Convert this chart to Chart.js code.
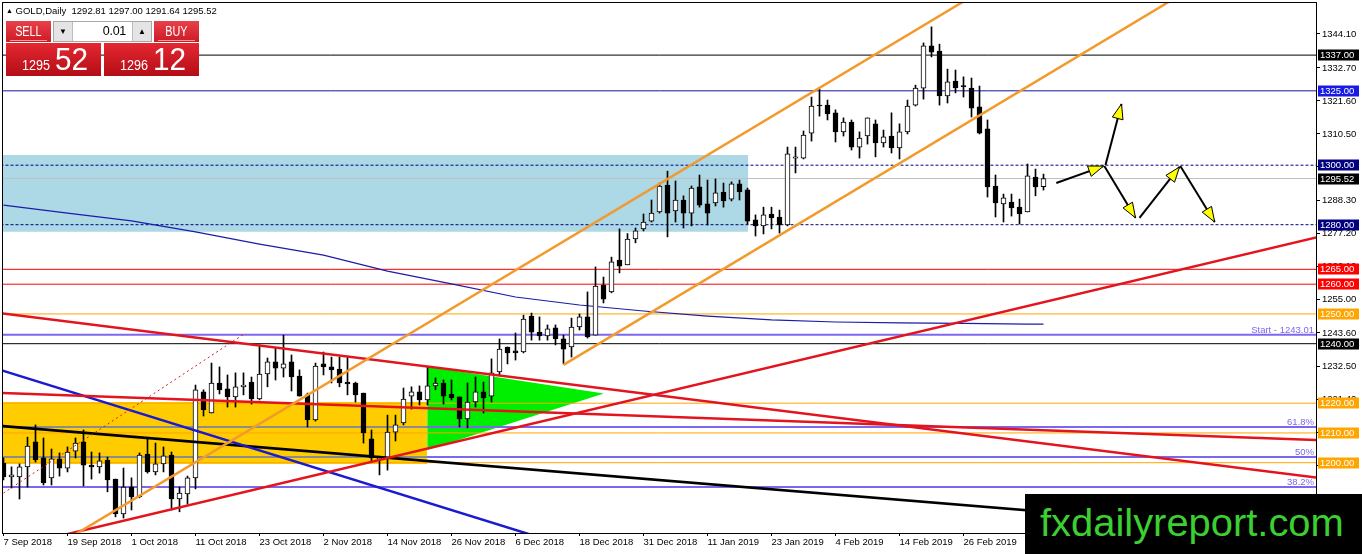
<!DOCTYPE html>
<html>
<head>
<meta charset="utf-8">
<title>GOLD Daily</title>
<script src="https://cdn.jsdelivr.net/npm/chart.js@4.4.0/dist/chart.umd.min.js"></script>
<style>
  html, body { margin: 0; padding: 0; background: #fff; }
  #wrap { position: relative; width: 1362px; height: 554px; overflow: hidden; font-family: "Liberation Sans", Arial, sans-serif; }
  #chart { position: absolute; left: 0; top: 0; }
  #title { position: absolute; left: 6px; top: 5px; font-size: 9.5px; color: #000; white-space: pre; line-height: 12px; }
  #title .tri { font-size: 7px; vertical-align: 1px; }
  .btn { position: absolute; top: 21px; width: 45px; height: 21px; background: linear-gradient(#e8404a, #cc1b25); color: #fff; text-align: center; overflow: hidden; }
  .btn span { display: inline-block; font-size: 15px; line-height: 20px; transform: scaleX(0.72); }
  .btn::after { content: ''; position: absolute; left: 4px; right: 4px; bottom: 1px; height: 1px; background: #f3a0a4; }
  #sell { left: 6px; }
  #buy { left: 154px; }
  #spin { position: absolute; left: 53px; top: 21px; width: 97px; height: 19px; border: 1px solid #a8a8a8; background: #fff; }
  #spin .arr { position: absolute; top: 0; width: 18px; height: 19px; background: #e4e4e4; font-size: 8px; line-height: 19px; text-align: center; color: #000; }
  #dn { left: 0; border-right: 1px solid #bdbdbd; }
  #up { right: 0; border-left: 1px solid #bdbdbd; }
  #lot { position: absolute; left: 20px; width: 52px; top: 0; text-align: right; font-size: 12.5px; line-height: 19px; color: #000; letter-spacing: -0.3px; }
  .pbox { position: absolute; top: 43px; width: 95px; height: 33px; background: linear-gradient(#e42832, #b40d16); color: #fff; overflow: hidden; }
  #pSell { left: 6px; }
  #pBuy { left: 104px; }
  .pbox .sm { position: absolute; left: 16px; top: 14px; font-size: 15px; line-height: 15px; transform: scaleX(0.84); transform-origin: left; }
  .pbox .big { position: absolute; left: 49px; top: 0; font-size: 32px; line-height: 32px; transform: scaleX(0.93); transform-origin: left; }
  #wm { position: absolute; left: 1025px; top: 494px; width: 337px; height: 60px; background: #000; overflow: hidden; }
  #wm span { position: absolute; left: 15px; top: 10px; font-size: 38px; line-height: 38px; color: #3ccf32; transform: scaleX(1.05); transform-origin: left; white-space: nowrap; }
</style>
</head>
<body>
<div id="wrap">
  <canvas id="chart" width="1362" height="554"></canvas>
  <div id="title"><span class="tri">▲</span> GOLD,Daily  1292.81 1297.00 1291.64 1295.52</div>
  <div class="btn" id="sell"><span>SELL</span></div>
  <div id="spin"><div class="arr" id="dn">▼</div><div id="lot">0.01</div><div class="arr" id="up">▲</div></div>
  <div class="btn" id="buy"><span>BUY</span></div>
  <div class="pbox" id="pSell"><span class="sm">1295</span><span class="big">52</span></div>
  <div class="pbox" id="pBuy"><span class="sm">1296</span><span class="big">12</span></div>
  <div id="wm"><span>fxdailyreport.com</span></div>
</div>
<script>
(function () {
  'use strict';

  // daily bars, 7 Sep 2018 .. 12 Mar 2019 (index = bar number)
  const candleOpen = [
    1199.9, 1195.2, 1195.2, 1198.6, 1207.0, 1201.6, 1194.9, 1201.3, 1198.2, 1203.9,
    1207.0, 1199.2, 1198.6, 1200.9, 1194.5, 1182.8, 1191.8, 1188.5, 1202.9, 1196.9,
    1199.6, 1202.6, 1187.8, 1189.5, 1194.9, 1223.8, 1216.7, 1226.8, 1224.8, 1222.1,
    1225.5, 1227.1, 1221.4, 1229.8, 1233.9, 1231.8, 1233.9, 1229.1, 1222.8, 1214.4,
    1233.2, 1232.2, 1231.5, 1227.1, 1226.8, 1223.4, 1208.0, 1201.3, 1201.6, 1210.3,
    1213.4, 1222.4, 1223.8, 1221.1, 1225.8, 1226.8, 1223.1, 1222.1, 1214.7, 1220.4,
    1223.8, 1222.4, 1230.5, 1238.9, 1237.6, 1237.2, 1249.3, 1243.9, 1242.6, 1245.3,
    1241.6, 1238.9, 1245.6, 1249.0, 1242.9, 1259.7, 1257.4, 1268.1, 1266.5, 1275.2,
    1278.6, 1281.2, 1284.3, 1293.3, 1284.6, 1288.3, 1283.9, 1292.7, 1287.0, 1287.3,
    1291.0, 1288.6, 1293.7, 1291.7, 1281.6, 1279.6, 1283.6, 1282.6, 1279.9, 1302.4,
    1302.4, 1310.8, 1320.2, 1320.2, 1317.6, 1311.2, 1314.5, 1306.1, 1309.8, 1313.9,
    1307.5, 1309.8, 1305.8, 1311.2, 1320.2, 1325.9, 1340.1, 1338.4, 1323.3, 1328.3,
    1326.7, 1325.9, 1319.6, 1312.2, 1293.0, 1287.0, 1287.6, 1285.9, 1284.3, 1296.0,
    1292.81
  ];
  const candleHigh = [
    1201.6, 1198.6, 1199.6, 1208.6, 1212.7, 1208.3, 1204.6, 1203.3, 1205.3, 1208.3,
    1211.0, 1203.6, 1203.3, 1201.9, 1194.5, 1198.2, 1194.9, 1203.3, 1208.3, 1206.6,
    1205.3, 1203.6, 1191.8, 1195.5, 1226.1, 1224.5, 1233.5, 1232.2, 1229.5, 1230.2,
    1230.2, 1228.8, 1239.6, 1235.2, 1238.6, 1242.9, 1236.2, 1231.2, 1223.4, 1233.5,
    1237.2, 1235.5, 1235.5, 1235.5, 1227.1, 1223.4, 1211.0, 1201.9, 1216.0, 1216.0,
    1225.1, 1225.5, 1225.8, 1232.2, 1228.5, 1227.8, 1227.8, 1222.1, 1226.8, 1228.8,
    1227.1, 1234.9, 1241.6, 1238.9, 1243.6, 1249.6, 1250.3, 1249.0, 1246.3, 1246.3,
    1242.9, 1248.6, 1250.0, 1257.4, 1265.8, 1262.4, 1269.1, 1278.6, 1277.0, 1278.9,
    1283.6, 1288.3, 1294.0, 1298.0, 1294.7, 1289.7, 1293.0, 1296.7, 1295.0, 1295.4,
    1294.0, 1294.4, 1295.0, 1292.3, 1283.3, 1285.9, 1285.9, 1284.9, 1306.1, 1306.1,
    1311.5, 1322.9, 1325.6, 1321.9, 1318.6, 1315.9, 1315.2, 1311.2, 1315.9, 1315.2,
    1311.8, 1317.6, 1313.9, 1321.9, 1326.9, 1341.1, 1346.5, 1340.7, 1332.3, 1332.0,
    1329.7, 1329.3, 1326.6, 1315.2, 1296.7, 1290.3, 1290.3, 1288.6, 1300.4, 1298.7,
    1297.00
  ];
  const candleLow = [
    1194.2, 1191.5, 1187.8, 1191.8, 1200.2, 1192.5, 1192.5, 1195.5, 1196.9, 1201.6,
    1192.2, 1194.5, 1196.5, 1190.2, 1181.8, 1181.4, 1184.1, 1188.2, 1196.5, 1195.9,
    1196.9, 1184.1, 1183.5, 1186.1, 1191.2, 1215.7, 1216.7, 1223.1, 1218.7, 1218.7,
    1222.8, 1219.7, 1221.1, 1225.5, 1227.8, 1228.8, 1224.1, 1222.4, 1212.0, 1214.0,
    1229.5, 1226.8, 1225.5, 1222.8, 1220.4, 1206.6, 1200.2, 1195.9, 1197.5, 1207.3,
    1212.7, 1218.0, 1219.4, 1219.4, 1224.5, 1219.7, 1221.1, 1212.0, 1211.7, 1218.7,
    1216.7, 1220.4, 1229.5, 1233.2, 1234.5, 1236.9, 1241.2, 1241.2, 1241.2, 1239.6,
    1233.2, 1235.5, 1244.6, 1241.9, 1242.9, 1253.7, 1257.1, 1263.8, 1266.5, 1273.9,
    1277.9, 1280.9, 1283.9, 1275.9, 1280.9, 1278.9, 1279.6, 1285.9, 1279.9, 1286.3,
    1285.9, 1288.0, 1288.3, 1280.2, 1276.2, 1276.9, 1278.6, 1277.2, 1279.6, 1297.4,
    1302.1, 1308.1, 1316.5, 1315.2, 1307.8, 1309.8, 1305.1, 1302.4, 1307.1, 1302.8,
    1306.1, 1304.1, 1302.1, 1310.5, 1319.9, 1322.2, 1336.4, 1320.2, 1320.9, 1324.3,
    1322.9, 1316.2, 1310.5, 1289.3, 1282.6, 1280.9, 1282.9, 1280.2, 1284.3, 1289.7,
    1291.64
  ];
  const candleClose = [
    1195.2, 1195.9, 1198.6, 1205.6, 1200.9, 1193.2, 1201.3, 1198.2, 1203.6, 1206.6,
    1199.2, 1198.6, 1200.6, 1194.2, 1182.8, 1191.8, 1188.5, 1202.6, 1196.9, 1199.6,
    1202.3, 1187.8, 1189.8, 1194.9, 1224.5, 1217.7, 1226.8, 1224.5, 1222.1, 1225.5,
    1226.1, 1221.4, 1229.8, 1233.9, 1231.8, 1233.2, 1228.8, 1222.4, 1214.4, 1232.5,
    1232.2, 1231.2, 1226.8, 1226.5, 1222.8, 1210.0, 1201.6, 1201.6, 1210.3, 1212.7,
    1221.4, 1223.8, 1221.1, 1225.8, 1226.8, 1222.4, 1221.8, 1214.7, 1220.4, 1223.8,
    1221.8, 1230.2, 1238.2, 1236.9, 1236.9, 1248.3, 1243.9, 1242.6, 1245.0, 1241.6,
    1238.2, 1245.6, 1249.0, 1242.3, 1259.4, 1255.0, 1267.5, 1266.1, 1275.2, 1277.9,
    1280.9, 1283.9, 1293.0, 1283.9, 1288.3, 1283.9, 1292.3, 1286.6, 1283.9, 1290.7,
    1288.0, 1293.7, 1291.0, 1281.2, 1279.6, 1283.3, 1282.3, 1279.9, 1303.8, 1302.8,
    1310.1, 1319.9, 1319.9, 1317.2, 1311.2, 1314.5, 1306.1, 1309.1, 1315.9, 1307.5,
    1309.5, 1305.8, 1311.2, 1319.9, 1325.9, 1340.1, 1338.0, 1323.3, 1328.0, 1326.0,
    1326.4, 1319.2, 1310.8, 1292.7, 1287.3, 1289.0, 1285.6, 1283.6, 1296.4, 1292.7,
    1295.52
  ];

  const dateTickIdx = [0, 8, 16, 24, 32, 40, 48, 56, 64, 72, 80, 88, 96, 104, 112, 120];
  const dateTickLabels = [
    '7 Sep 2018', '19 Sep 2018', '1 Oct 2018', '11 Oct 2018', '23 Oct 2018', '2 Nov 2018',
    '14 Nov 2018', '26 Nov 2018', '6 Dec 2018', '18 Dec 2018', '31 Dec 2018', '11 Jan 2019',
    '23 Jan 2019', '4 Feb 2019', '14 Feb 2019', '26 Feb 2019'
  ];
  const priceTicks = [1344.10, 1332.70, 1321.60, 1310.50, 1299.40, 1288.30, 1277.20, 1266.10,
    1255.00, 1243.60, 1232.50, 1221.40, 1210.30, 1199.20, 1188.10];

  // moving average (navy curve)
  const maIdx = [0, 8, 16, 24, 32, 40, 48, 56, 64, 72, 80, 88, 96, 104, 112, 120, 128, 130];
  const maValues = [1286.6, 1283.9, 1281.3, 1277.6, 1273.5, 1269.8, 1264.4, 1260.1, 1255.7,
    1253.0, 1251.0, 1249.3, 1248.0, 1247.3, 1247.0, 1246.8, 1246.6, 1246.6];

  // horizontal levels
  const levelPrices = [1337, 1325, 1300, 1280, 1265, 1260, 1250, 1240, 1220, 1210, 1200];
  const startPrice = 1243.01;
  const fibPrices = [1212.0, 1201.9, 1191.8];
  const fibLabels = ['61.8%', '50%', '38.2%'];

  // trend lines: [barFrom, priceFrom, barTo, priceTo]
  const channelUpper = [5, 1169.5, 125, 1363.1];
  const channelLower = [70, 1232.9, 150, 1361.9];
  const redRising = [5, 1174.1, 170, 1279.5];
  const redFalling = [-1, 1250.5, 170, 1193.0];
  const redFlat = [-1, 1223.5, 170, 1207.1];
  const redDotted = [0, 1189.8, 30.25, 1243.6];
  const blueFalling = [-1, 1231.7, 67, 1174.9];
  const blackFalling = [-1, 1212.5, 170, 1174.7];

  // zones: [barFrom, barTo, priceTop, priceBottom]
  const blueZone = [-1, 93.1, 1303.4, 1277.6];
  const goldZone = [-1, 52.96, 1220.4, 1199.6];
  const greenTriangle = [[52.96, 1232.3], [75.04, 1223.3], [52.96, 1204.3]];

  // projected path arrows: [barFrom, priceFrom, barTo, priceTo]
  const arrowPaths = [
    [131.6, 1294.0, 137.5, 1299.7],
    [137.75, 1300.1, 139.75, 1320.6],
    [137.6, 1299.7, 141.5, 1282.3],
    [142.0, 1282.3, 147.0, 1299.4],
    [147.1, 1299.7, 151.4, 1280.9]
  ];

  // styles
  const levelLineColor = ['#000000', '#1414a0', '#000080', '#000080', '#ff0000', '#ff0000',
    '#ffa500', '#000000', '#ffa500', '#ffa500', '#ffa500'];
  const levelBoxColor = ['#000000', '#1a1ae6', '#000080', '#000080', '#ff0000', '#ff0000',
    '#ffa500', '#000000', '#ffa500', '#ffa500', '#ffa500'];
  const levelDash = [[], [], [3, 2], [3, 2], [], [], [], [], [], [], []];
  const slate = '#7b68ee';
  const orange = '#f39a2e';
  const red = '#e3141e';
  const FONT = '"Liberation Sans", Arial, sans-serif';

  const seg = (l) => [{ x: l[0], y: l[1] }, { x: l[2], y: l[3] }];
  const hline = (p) => [{ x: -1, y: p }, { x: 170, y: p }];

  function lineDs(data, color, width, order, extra) {
    return Object.assign({
      type: 'line',
      data: data,
      borderColor: color,
      borderWidth: width,
      pointRadius: 0,
      pointHoverRadius: 0,
      tension: 0,
      fill: false,
      order: order,
    }, extra || {});
  }

  // axes keep the plot area fixed: no automatic room for the edge labels
  function noPadding(s) {
    s.paddingTop = 0;
    s.paddingBottom = 0;
    s.paddingLeft = 0;
    s.paddingRight = 0;
  }

  const datasets = [];

  // zones (background)
  datasets.push(lineDs(
    [{ x: blueZone[0], y: blueZone[2] }, { x: blueZone[1], y: blueZone[2] }],
    'transparent', 0, 100, { fill: { value: blueZone[3] }, backgroundColor: '#add8e6' }));
  datasets.push(lineDs(
    [{ x: goldZone[0], y: goldZone[2] }, { x: goldZone[1], y: goldZone[2] }],
    'transparent', 0, 100, { fill: { value: goldZone[3] }, backgroundColor: '#ffcc00' }));
  datasets.push(lineDs(
    [{ x: greenTriangle[0][0], y: greenTriangle[0][1] }, { x: greenTriangle[1][0], y: greenTriangle[1][1] }],
    'transparent', 0, 99, { fill: '+1', backgroundColor: '#00ee00' }));
  datasets.push(lineDs(
    [{ x: greenTriangle[2][0], y: greenTriangle[2][1] }, { x: greenTriangle[1][0], y: greenTriangle[1][1] }],
    'transparent', 0, 99));

  // horizontal levels
  levelPrices.forEach((p, k) => {
    datasets.push(lineDs(hline(p), levelLineColor[k], 1, 60, { borderDash: levelDash[k] }));
  });
  datasets.push(lineDs(hline(candleClose[candleClose.length - 1]), '#c0c0c0', 1, 61));
  datasets.push(lineDs(hline(startPrice), slate, 2, 60));
  fibPrices.forEach((p) => datasets.push(lineDs(hline(p), slate, 2, 60)));
  fibPrices.slice(0, 2).forEach((p) => datasets.push(lineDs(
    [{ x: -1, y: p }, { x: goldZone[1], y: p }], '#8c8c8c', 2, 59)));

  // moving average
  datasets.push(lineDs(maIdx.map((i, k) => ({ x: i, y: maValues[k] })), '#1c1ca8', 1.2, 55));

  // candles
  const bars = candleOpen.map((o, i) => i);
  datasets.push({
    type: 'bar',
    data: bars.map((i) => ({ x: i, y: [candleLow[i], candleHigh[i]] })),
    backgroundColor: '#000',
    borderWidth: 0,
    barThickness: 1,
    maxBarThickness: 1,
    grouped: false,
    order: 40,
  });
  datasets.push({
    type: 'bar',
    data: bars.map((i) => ({ x: i, y: [candleOpen[i], candleClose[i]] })),
    backgroundColor: bars.map((i) => (candleClose[i] >= candleOpen[i] ? '#ffffff' : '#000000')),
    borderColor: '#000',
    borderWidth: 1,
    borderSkipped: false,
    barThickness: 5,
    maxBarThickness: 5,
    minBarLength: 1,
    grouped: false,
    order: 39,
  });

  // trend lines
  datasets.push(lineDs(seg(channelUpper), orange, 2.5, 20));
  datasets.push(lineDs(seg(channelLower), orange, 2.5, 20));
  datasets.push(lineDs(seg(redRising), red, 2.5, 21));
  datasets.push(lineDs(seg(redFalling), red, 2.5, 21));
  datasets.push(lineDs(seg(redFlat), red, 2.5, 21));
  datasets.push(lineDs(seg(redDotted), red, 1, 21, { borderDash: [2, 3] }));
  datasets.push(lineDs(seg(blueFalling), '#1a1ad0', 2.5, 22));
  datasets.push(lineDs(seg(blackFalling), '#000000', 2.5, 22));

  // projection arrows
  arrowPaths.forEach((a) => datasets.push(lineDs(seg(a), '#000000', 2, 10)));

  const arrowHeads = {
    id: 'arrowHeads',
    afterDatasetsDraw(chart) {
      const { ctx, scales: { x, y } } = chart;
      ctx.save();
      arrowPaths.forEach((a) => {
        const x1 = x.getPixelForValue(a[0]), y1 = y.getPixelForValue(a[1]);
        const x2 = x.getPixelForValue(a[2]), y2 = y.getPixelForValue(a[3]);
        const ang = Math.atan2(y2 - y1, x2 - x1);
        const len = 15, half = 5.5;
        const bx = x2 - Math.cos(ang) * len, by = y2 - Math.sin(ang) * len;
        ctx.beginPath();
        ctx.moveTo(x2, y2);
        ctx.lineTo(bx + Math.sin(ang) * half, by - Math.cos(ang) * half);
        ctx.lineTo(bx - Math.sin(ang) * half, by + Math.cos(ang) * half);
        ctx.closePath();
        ctx.fillStyle = '#ffff00';
        ctx.fill();
        ctx.lineWidth = 1;
        ctx.strokeStyle = '#000';
        ctx.stroke();
      });
      ctx.restore();
    },
  };

  const levelLabels = {
    id: 'levelLabels',
    afterDraw(chart) {
      const { ctx, chartArea, scales: { y } } = chart;
      ctx.save();
      // chart frame
      ctx.strokeStyle = '#000';
      ctx.lineWidth = 1;
      ctx.strokeRect(chartArea.left - 0.5, chartArea.top - 0.5, chartArea.width + 1, chartArea.height + 1);

      // fibo / start texts
      ctx.font = '9.5px ' + FONT;
      ctx.fillStyle = slate;
      ctx.textAlign = 'right';
      ctx.textBaseline = 'alphabetic';
      ctx.fillText('Start - ' + startPrice.toFixed(2), chartArea.right - 2, y.getPixelForValue(startPrice) - 2);
      fibPrices.forEach((p, k) => {
        ctx.fillText(fibLabels[k], chartArea.right - 2, y.getPixelForValue(p) - 2);
      });

      // price boxes on the axis
      const boxes = levelPrices.map((p, k) => [p, levelBoxColor[k]]);
      boxes.push([candleClose[candleClose.length - 1], '#000000']);
      ctx.textAlign = 'left';
      ctx.textBaseline = 'middle';
      boxes.forEach(([p, c]) => {
        const py = Math.round(y.getPixelForValue(p));
        ctx.fillStyle = c;
        ctx.fillRect(chartArea.right + 2, py - 5.5, 41, 11);
        ctx.fillStyle = '#fff';
        ctx.fillText(p.toFixed(2), chartArea.right + 4, py + 0.5);
      });
      ctx.restore();
    },
  };

  const ctx = document.getElementById('chart').getContext('2d');
  new Chart(ctx, {
    type: 'bar',
    data: { datasets: datasets },
    options: {
      responsive: false,
      devicePixelRatio: 1,
      animation: false,
      layout: { autoPadding: false, padding: { left: 3, top: 3, right: 0, bottom: 0 } },
      plugins: {
        legend: { display: false },
        tooltip: { enabled: false },
      },
      scales: {
        x: {
          type: 'linear',
          position: 'bottom',
          min: -0.0625,
          max: 164.0625,
          offset: false,
          afterBuildTicks: (s) => { s.ticks = dateTickIdx.map((v) => ({ value: v })); },
          afterFit: (s) => { s.height = 21; noPadding(s); },
          ticks: {
            autoSkip: false,
            maxRotation: 0,
            align: 'start',
            padding: 1,
            color: '#000',
            font: { family: FONT, size: 9.5 },
            callback: (v, idx) => dateTickLabels[idx],
          },
          grid: { drawOnChartArea: false, drawTicks: true, tickLength: 3, color: '#000', offset: false },
          border: { display: true, color: '#000' },
        },
        y: {
          type: 'linear',
          position: 'right',
          min: 1176.37,
          max: 1354.52,
          afterBuildTicks: (s) => { s.ticks = priceTicks.map((v) => ({ value: v })); },
          afterFit: (s) => { s.width = 46; noPadding(s); },
          ticks: {
            autoSkip: false,
            padding: 2,
            color: '#000',
            font: { family: FONT, size: 9.5 },
            callback: (v) => Number(v).toFixed(2),
          },
          grid: { drawOnChartArea: false, drawTicks: true, tickLength: 4, color: '#000' },
          border: { display: true, color: '#000' },
        },
      },
    },
    plugins: [arrowHeads, levelLabels],
  });
})();
</script>
</body>
</html>
